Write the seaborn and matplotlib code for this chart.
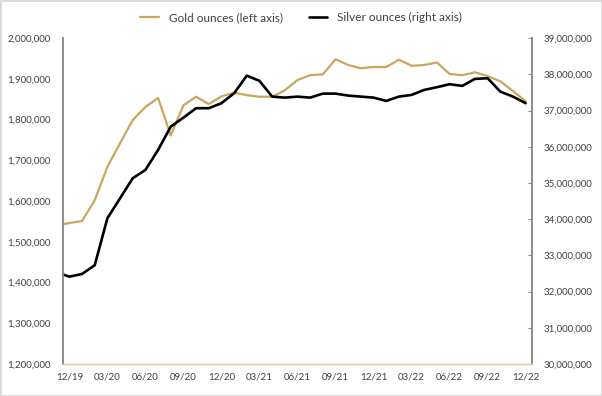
import matplotlib
matplotlib.use('Agg')
import matplotlib.pyplot as plt
import matplotlib.ticker as mticker
import seaborn as sns
import numpy as np
import pandas as pd

# monthly values, first month (11/19) only shows as the line entering from the left edge
months = ['11/19',
          '12/19', '01/20', '02/20', '03/20', '04/20', '05/20', '06/20', '07/20', '08/20',
          '09/20', '10/20', '11/20', '12/20', '01/21', '02/21', '03/21', '04/21', '05/21',
          '06/21', '07/21', '08/21', '09/21', '10/21', '11/21', '12/21', '01/22', '02/22',
          '03/22', '04/22', '05/22', '06/22', '07/22', '08/22', '09/22', '10/22', '11/22',
          '12/22']

gold = [1540000,
        1546000, 1551000, 1602000, 1684000, 1742000, 1799000, 1831000, 1853000, 1761000,
        1835000, 1856000, 1838000, 1857000, 1866000, 1860000, 1856000, 1856000, 1872000,
        1897000, 1909000, 1911000, 1948000, 1934000, 1926000, 1929000, 1929000, 1947000,
        1932000, 1934000, 1940000, 1912000, 1909000, 1916000, 1907000, 1894000, 1870000,
        1845000]

silver = [32530000,
          32412000, 32486000, 32727000, 34025000, 34577000, 35130000, 35359000, 35912000, 36555000,
          36804000, 37064000, 37064000, 37202000, 37478000, 37964000, 37818000, 37384000, 37356000,
          37384000, 37356000, 37467000, 37467000, 37412000, 37384000, 37356000, 37265000, 37384000,
          37431000, 37569000, 37644000, 37727000, 37680000, 37873000, 37892000, 37522000, 37384000,
          37202000]

tick_labels = ['12/19', '03/20', '06/20', '09/20', '12/20', '03/21', '06/21',
               '09/21', '12/21', '03/22', '06/22', '09/22', '12/22']

df = pd.DataFrame({'month': months, 'gold': gold, 'silver': silver})
df['x'] = np.arange(len(df)) - 1

sns.set_style('white')
plt.rcParams['font.family'] = ['Lato', 'DejaVu Sans']

gold_col = '#C8A75E'
text_col = '#404040'

fig = plt.figure(figsize=(6.02, 3.96), dpi=100)
ax = fig.add_axes([0.1047, 0.0808, 0.779, 0.823])
ax2 = ax.twinx()

sns.lineplot(data=df, x='x', y='gold', ax=ax, color=gold_col, linewidth=1.6,
             label='Gold ounces (left axis)', legend=False)
sns.lineplot(data=df, x='x', y='silver', ax=ax2, color='black', linewidth=1.9,
             label='Silver ounces (right axis)', legend=False)

ax.set_xlim(-0.5, 36.5)
ax.set_ylim(1200000, 2000000)
ax2.set_ylim(30000000, 39000000)
ax.yaxis.set_major_locator(mticker.MultipleLocator(100000))
ax2.yaxis.set_major_locator(mticker.MultipleLocator(1000000))
fmt = mticker.FuncFormatter(lambda v, p: f'{v:,.0f}')
ax.yaxis.set_major_formatter(fmt)
ax2.yaxis.set_major_formatter(fmt)

# tick marks sit between categories, labels centred on them
ax.set_xticks(np.arange(-0.5, 36, 3))
ax.set_xticklabels([])
ax.set_xticks(np.arange(0, 37, 3), minor=True)
ax.set_xticklabels(tick_labels, minor=True)
ax.tick_params(axis='x', which='major', direction='in', length=3, color='#d9c9a0')
ax.tick_params(axis='x', which='minor', length=0, pad=6, labelsize=7, labelcolor=text_col)
ax.tick_params(axis='y', length=0, pad=9, labelsize=7, labelcolor=text_col)
ax2.tick_params(axis='y', direction='in', length=3, color='#909090', pad=8,
                labelsize=7, labelcolor=text_col)

for a in (ax, ax2):
    a.set_xlabel('')
    a.set_ylabel('')
    a.grid(False)
    a.spines['top'].set_visible(False)
    a.spines['left'].set_color('#8c8c8c')
    a.spines['right'].set_color('#8c8c8c')
    a.spines['bottom'].set_color('#e0cf9f')
    a.spines['left'].set_linewidth(1.2)
    a.spines['right'].set_linewidth(1.2)
    a.spines['bottom'].set_linewidth(1.0)

h1, l1 = ax.get_legend_handles_labels()
h2, l2 = ax2.get_legend_handles_labels()
fig.legend(h1 + h2, l1 + l2, loc='center', bbox_to_anchor=(0.5, 0.955), ncol=2,
           frameon=False, fontsize=8.5, handlelength=1.6, handletextpad=0.8,
           columnspacing=2.2, labelcolor=text_col)

fig.patches.append(plt.Rectangle((0, 0), 1, 1, transform=fig.transFigure,
                                 fill=False, edgecolor='#d9d9d9', linewidth=2))

fig.savefig('out.png', dpi=100, facecolor='white')
